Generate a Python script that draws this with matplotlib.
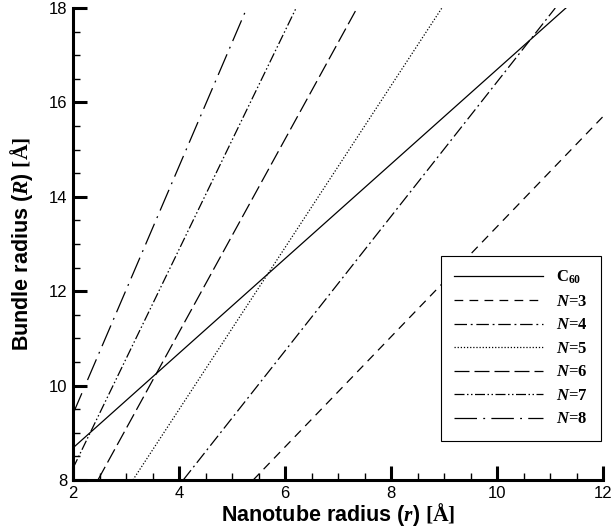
import matplotlib.pyplot as plt
import matplotlib.ticker as mticker

plt.rcParams['font.family'] = ['Liberation Sans', 'DejaVu Sans']
plt.rcParams['mathtext.fontset'] = 'custom'
plt.rcParams['mathtext.it'] = 'Liberation Serif:italic:bold'
plt.rcParams['mathtext.rm'] = 'Liberation Serif:bold'
plt.rcParams['mathtext.bf'] = 'Liberation Serif:bold'

# values (straight lines: start and end points)
labels = [r"C$_{60}$", r"$N$=3", r"$N$=4", r"$N$=5", r"$N$=6", r"$N$=7", r"$N$=8"]
r_c60 = [2.0, 11.3]
R_c60 = [8.68, 18.0]
r_n3 = [5.4, 12.0]
R_n3 = [8.0, 15.7]
r_n4 = [4.08, 11.1]
R_n4 = [8.0, 18.0]
r_n5 = [3.13, 8.96]
R_n5 = [8.0, 18.0]
r_n6 = [2.47, 7.36]
R_n6 = [8.0, 18.0]
r_n7 = [2.0, 6.21]
R_n7 = [8.25, 18.0]
r_n8 = [2.0, 5.28]
R_n8 = [9.4, 18.0]

xs = [r_c60, r_n3, r_n4, r_n5, r_n6, r_n7, r_n8]
ys = [R_c60, R_n3, R_n4, R_n5, R_n6, R_n7, R_n8]
styles = ['-', (0, (7, 5)), (0, (10, 3, 1.5, 3)), (0, (1, 1.5)),
          (0, (12, 4)), (0, (8, 2, 1.2, 2, 1.2, 2)), (0, (18, 5, 1.5, 5))]

fig = plt.figure(figsize=(6.11, 5.31), dpi=100)
ax = fig.add_axes([73 / 611, 1 - 480 / 531, 530 / 611, 472 / 531])

for x, y, ls, lab in zip(xs, ys, styles, labels):
    ax.plot(x, y, color='black', linewidth=0.9, linestyle=ls, label=lab)

ax.set_xlim(2, 12)
ax.set_ylim(8, 18)
ax.xaxis.set_major_locator(mticker.MultipleLocator(2))
ax.xaxis.set_minor_locator(mticker.MultipleLocator(0.5))
ax.yaxis.set_major_locator(mticker.MultipleLocator(2))
ax.yaxis.set_minor_locator(mticker.MultipleLocator(0.5))

ax.spines['top'].set_visible(False)
ax.spines['right'].set_visible(False)
ax.spines['left'].set_linewidth(2.2)
ax.spines['bottom'].set_linewidth(2.2)
ax.tick_params(which='major', direction='in', length=10, width=2.2, labelsize=12, pad=4)
ax.tick_params(which='minor', direction='in', length=5, width=1.0)

ax.set_xlabel(r"Nanotube radius ($r$) $\mathrm{[Å]}$", fontsize=15.5, fontweight='bold', labelpad=0)
ax.set_ylabel(r"Bundle radius ($R$) $\mathrm{[Å]}$", fontsize=15.5, fontweight='bold', labelpad=10)

leg = ax.legend(loc='lower right', bbox_to_anchor=(0.996, 0.083), borderaxespad=0,
                prop={'family': 'Liberation Serif', 'weight': 'bold', 'size': 12},
                handlelength=5.3, labelspacing=0.45, fancybox=False,
                edgecolor='black', framealpha=1, borderpad=0.8, handletextpad=0.8)
leg.get_frame().set_linewidth(0.8)

plt.savefig('out.png', dpi=100)
